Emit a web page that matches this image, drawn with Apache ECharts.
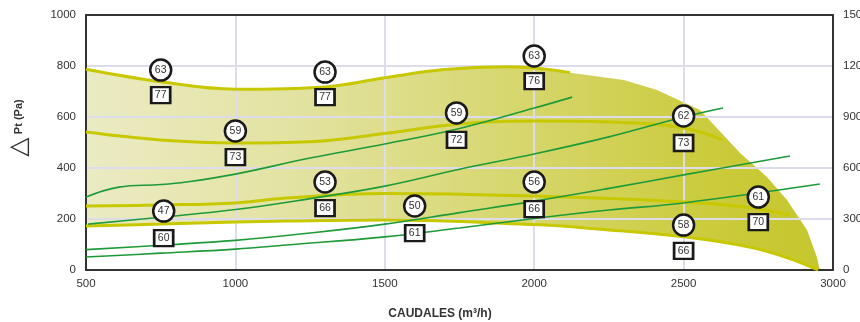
<!DOCTYPE html>
<html><head><meta charset="utf-8">
<script src="https://cdn.jsdelivr.net/npm/echarts@6/dist/echarts.min.js"></script>
<style>html,body{margin:0;padding:0;background:#fff}#c{width:860px;height:322px}</style>
</head><body><div id="c"></div>
<script>
// ---- data ----
const xTicks = [500, 1000, 1500, 2000, 2500, 3000];
const yTicksLeft = [0, 200, 400, 600, 800, 1000];
const yTicksRight = [0, 300, 600, 900, 1200, 1500];
const yellow1 = [[500,787],[750,738],[1000,709],[1300,718],[1500,754],[1700,786],[1900,797],[2000,792],[2120,774]];
const yellow2 = [[500,541],[750,510],[1000,498],[1250,503],[1500,535],[1750,573],[2000,584],[2250,580],[2500,557],[2630,510]];
const yellow3 = [[500,251],[750,255],[1000,263],[1170,282],[1500,300],[2000,290],[2500,267],[2700,248],[2856,216]];
const yellow4 = [[500,173],[750,180],[1000,188],[1170,192],[1500,196],[2000,178],[2220,160],[2500,130],[2720,90],[2850,47],[2950,0]];
const green1 = [[500,286],[610,325],[750,335],[835,345],[1000,376],[1250,439],[1500,494],[1750,555],[2000,635],[2127,678]];
const green2 = [[507,180],[750,207],[1000,237],[1250,280],[1500,329],[1750,395],[2000,455],[2250,522],[2500,600],[2632,635]];
const green3 = [[500,80],[750,97],[1000,116],[1250,145],[1500,180],[1750,225],[2000,270],[2250,320],[2500,373],[2856,447]];
const green4 = [[500,51],[750,66],[1000,82],[1170,98],[1500,130],[1750,165],[2000,202],[2250,235],[2500,263],[2956,337]];
const fillTop = [[500,787],[750,738],[1000,709],[1300,718],[1500,754],[1700,786],[1900,797],[2000,792],[2120,774],[2300,745],[2411,706],[2555,627],[2689,459],[2779,365],[2846,275],[2913,157],[2946,51],[2956,0]];
const fillBottom = yellow4;
const circles = [[750,784,63],[1300,776,63],[2000,839,63],[1000,545,59],[1740,616,59],[2500,604,62],[1300,345,53],[2000,345,56],[760,231,47],[1600,251,50],[2500,176,58],[2750,286,61]];
const squares = [[750,686,77],[1300,678,77],[2000,741,76],[1000,443,73],[1740,510,72],[2500,498,73],[1300,243,66],[2000,239,66],[760,125,60],[1600,145,61],[2500,75,66],[2750,188,70]];

const FF = '"Liberation Sans", Arial, sans-serif';
const chart = echarts.init(document.getElementById('c'));
const yellowColor = '#c8c800';
const greenColor = '#1f9a3a';
const plain = v => String(v);

function lineSeries(data, color, width) {
  return {type:'line', data:data, smooth:0.4, symbol:'none', silent:true,
    lineStyle:{color:color, width:width}, z:3};
}

const option = {
  animation:false,
  grid:{left:86, right:27, top:15, bottom:52, containLabel:false, outerBoundsMode:'none'},
  xAxis:[{
    type:'value', min:xTicks[0], max:xTicks[xTicks.length-1], interval:500,
    axisLine:{show:true, onZero:false, lineStyle:{color:'#333', width:2}},
    axisTick:{show:false},
    axisLabel:{color:'#333', fontSize:11.5, margin:8, fontFamily:FF, formatter:plain},
    splitLine:{show:true, showMinLine:false, showMaxLine:false, lineStyle:{color:'#dcdcea', width:2}}
  },{
    type:'value', position:'top', min:500, max:3000, interval:500,
    axisLine:{show:true, onZero:false, lineStyle:{color:'#333', width:2}},
    axisTick:{show:false}, axisLabel:{show:false}, splitLine:{show:false}
  }],
  yAxis:[{
    type:'value', min:yTicksLeft[0], max:yTicksLeft[yTicksLeft.length-1], interval:200,
    axisLine:{show:true, onZero:false, lineStyle:{color:'#333', width:2}},
    axisTick:{show:false},
    axisLabel:{color:'#333', fontSize:11.5, margin:10, fontFamily:FF, formatter:plain},
    splitLine:{show:true, showMinLine:false, showMaxLine:false, lineStyle:{color:'#dcdcea', width:2}}
  },{
    type:'value', position:'right', min:yTicksRight[0], max:yTicksRight[yTicksRight.length-1], interval:300,
    axisLine:{show:true, onZero:false, lineStyle:{color:'#333', width:2}},
    axisTick:{show:false},
    axisLabel:{color:'#333', fontSize:11.5, margin:10, fontFamily:FF, formatter:plain},
    splitLine:{show:false}
  }],
  graphic:[
    {type:'text', x:440, y:314, style:{text:'CAUDALES (m³/h)', fill:'#333', font:'bold 12px '+FF, align:'center', verticalAlign:'middle'}},
    {type:'text', x:19, y:128, rotation:Math.PI/2, style:{text:'{t|△} {p|Pt (Pa)}', align:'center', verticalAlign:'middle',
      rich:{t:{fontSize:25, fill:'#333', fontFamily:'DejaVu Sans'}, p:{fontSize:11, fontWeight:'bold', fill:'#333', fontFamily:FF}}}}
  ],
  series:[
    {type:'custom', z:-1, silent:true, clip:true, data:[[500,0]],
      renderItem:function(params, api){
        const pts = fillTop.concat(fillBottom.slice().reverse()).map(p => api.coord(p));
        return {type:'polygon', shape:{points:pts}, style:{
          fill:new echarts.graphic.LinearGradient(0,0,1,0,[
            {offset:0, color:'#ebebc4'},{offset:0.3, color:'#e2e29f'},{offset:0.6, color:'#d6d66c'},{offset:0.85, color:'#cbcb3c'},{offset:1, color:'#c6c62e'}])}};
      }},
    lineSeries(yellow1, yellowColor, 3),
    lineSeries(yellow2, yellowColor, 3),
    lineSeries(yellow3, yellowColor, 3),
    lineSeries(yellow4, yellowColor, 3),
    lineSeries(green1, greenColor, 1.6),
    lineSeries(green2, greenColor, 1.6),
    lineSeries(green3, greenColor, 1.6),
    lineSeries(green4, greenColor, 1.6),
    {type:'scatter', data:circles, symbol:'circle', symbolSize:21, z:5, silent:true,
      itemStyle:{color:'#fff', borderColor:'#1a1a1a', borderWidth:2.5, opacity:1},
      label:{show:true, position:'inside', formatter:p => p.value[2], color:'#333', fontSize:10.5, fontFamily:FF}},
    {type:'scatter', data:squares, symbol:'rect', symbolSize:[19,16], z:5, silent:true,
      itemStyle:{color:'#fff', borderColor:'#1a1a1a', borderWidth:2.5, opacity:1},
      label:{show:true, position:'inside', formatter:p => p.value[2], color:'#333', fontSize:10.5, fontFamily:FF}}
  ]
};
chart.setOption(option);
</script></body></html>
